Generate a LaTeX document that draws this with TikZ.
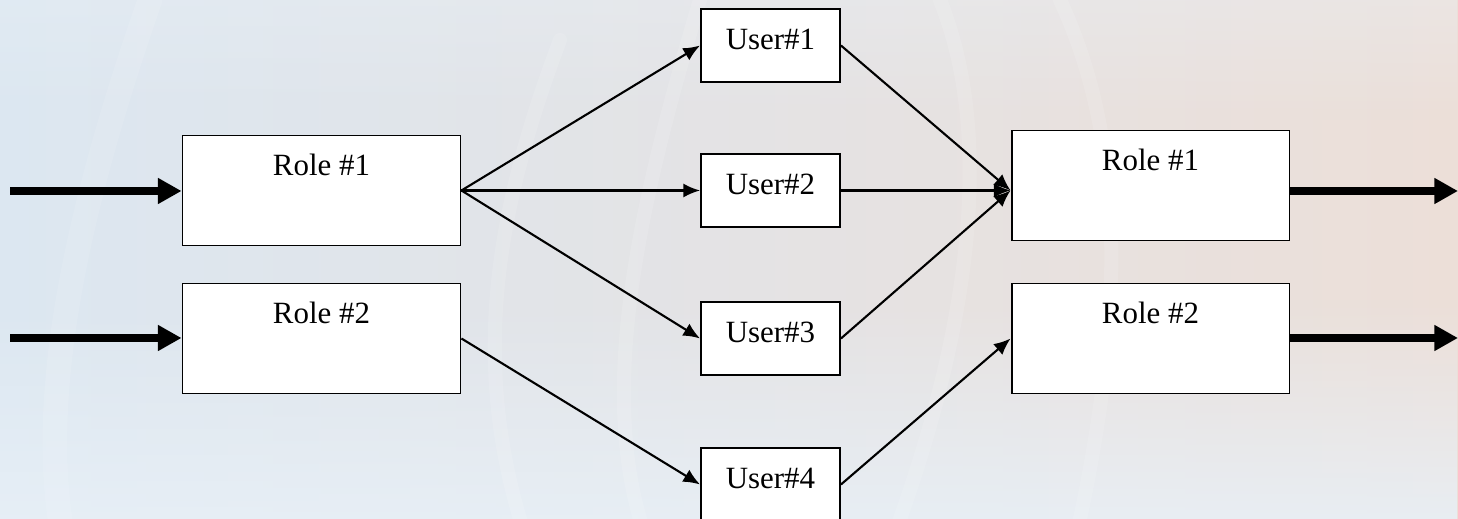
\documentclass[tikz,border=0pt]{standalone}
\usepackage{fontspec}
\setmainfont{Liberation Serif}
\usetikzlibrary{arrows.meta,calc,fadings}
\definecolor{bgblue}{HTML}{DCE7F1}
\definecolor{bgbeige}{HTML}{E6DBD4}
\definecolor{bgpeach}{HTML}{ECDFD8}
\definecolor{bglow}{HTML}{E8F0F7}
\begin{document}
\begin{tikzpicture}[x=0.02cm,y=-0.02cm,
  boxfont/.style={font=\fontsize{17.6}{20}\selectfont},
  rolebox/.style={draw=black, line width=1.1pt, fill=white, boxfont,
    minimum width=5.56cm, inner xsep=0pt, inner ysep=0pt,
    text height=0.8cm, text depth=1.4cm},
  userbox/.style={draw=black, line width=1.1pt, fill=white, boxfont,
    minimum width=2.78cm, inner xsep=0pt, inner ysep=0pt,
    text height=0.82cm, text depth=0.64cm},
  link/.style={line width=1.2pt, -{Latex[length=9.5pt,width=8pt]}},
  flow/.style={line width=4.8pt, -{Triangle[length=13.5pt,width=14pt]}},
  streak/.style={white, line width=8pt, opacity=0.12, line cap=round},
]
% canvas and soft background
\useasboundingbox (0,0) rectangle (1458,519);
\clip (0,0) rectangle (1458,519);
\shade[left color=bgblue, middle color=bgbeige, right color=bgpeach] (0,0) rectangle (1458,519);
\fill[bglow, path fading=north, opacity=0.85] (0,300) rectangle (1458,519);
\fill[bgblue!60!white, path fading=south, opacity=0.35] (0,0) rectangle (1458,120);
% faint light streaks
\draw[streak] (520,519) .. controls (470,350) and (500,200) .. (560,40);
\draw[streak] (640,519) .. controls (600,380) and (640,200) .. (700,0);
\draw[streak] (900,519) .. controls (960,350) and (1000,150) .. (940,0);
\draw[streak] (1080,519) .. controls (1120,330) and (1130,150) .. (1060,0);
\draw[streak, line width=14pt, opacity=0.1] (60,519) .. controls (40,380) and (80,200) .. (150,0);

% left roles
\node[rolebox] (L1) at (321.5,190.5) {Role \#1};
\node[rolebox] (L2) at (321.5,338.5) {Role \#2};

% users
\node[userbox] (U1) at (770.5,45.5)  {User\#1};
\node[userbox] (U2) at (770.5,190.5) {User\#2};
\node[userbox] (U3) at (770.5,338.5) {User\#3};
\node[userbox] (U4) at (770.5,484.5) {User\#4};

% right roles
\node[rolebox] (R1) at (1150.5,185.5) {Role \#1};
\node[rolebox] (R2) at (1150.5,338.5) {Role \#2};

% free ends of the thick flows
\coordinate (in1) at (10,191);
\coordinate (in2) at (10,338);
\coordinate (out1) at (1458,191);
\coordinate (out2) at (1458,338);
\coordinate (join) at (U2.east -| R1.west);

% incoming and outgoing flows
\draw[flow] (in1) -- (in1 -| L1.west);
\draw[flow] (in2) -- (in2 -| L2.west);
\draw[flow] (out1 -| R1.east) -- (out1);
\draw[flow] (out2 -| R2.east) -- (out2);

% role to user assignments
\draw[link] (L1.east) -- (U1.west);
\draw[link] (L1.east) -- (U2.west);
\draw[link] (L1.east) -- (U3.west);
\draw[link] (L2.east) -- (U4.west);

% users to roles
\draw[link] (U1.east) -- (join);
\draw[link] (U2.east) -- (join);
\draw[link] (U3.east) -- (join);
\draw[link] (U4.east) -- (R2.west);
\end{tikzpicture}
\end{document}
